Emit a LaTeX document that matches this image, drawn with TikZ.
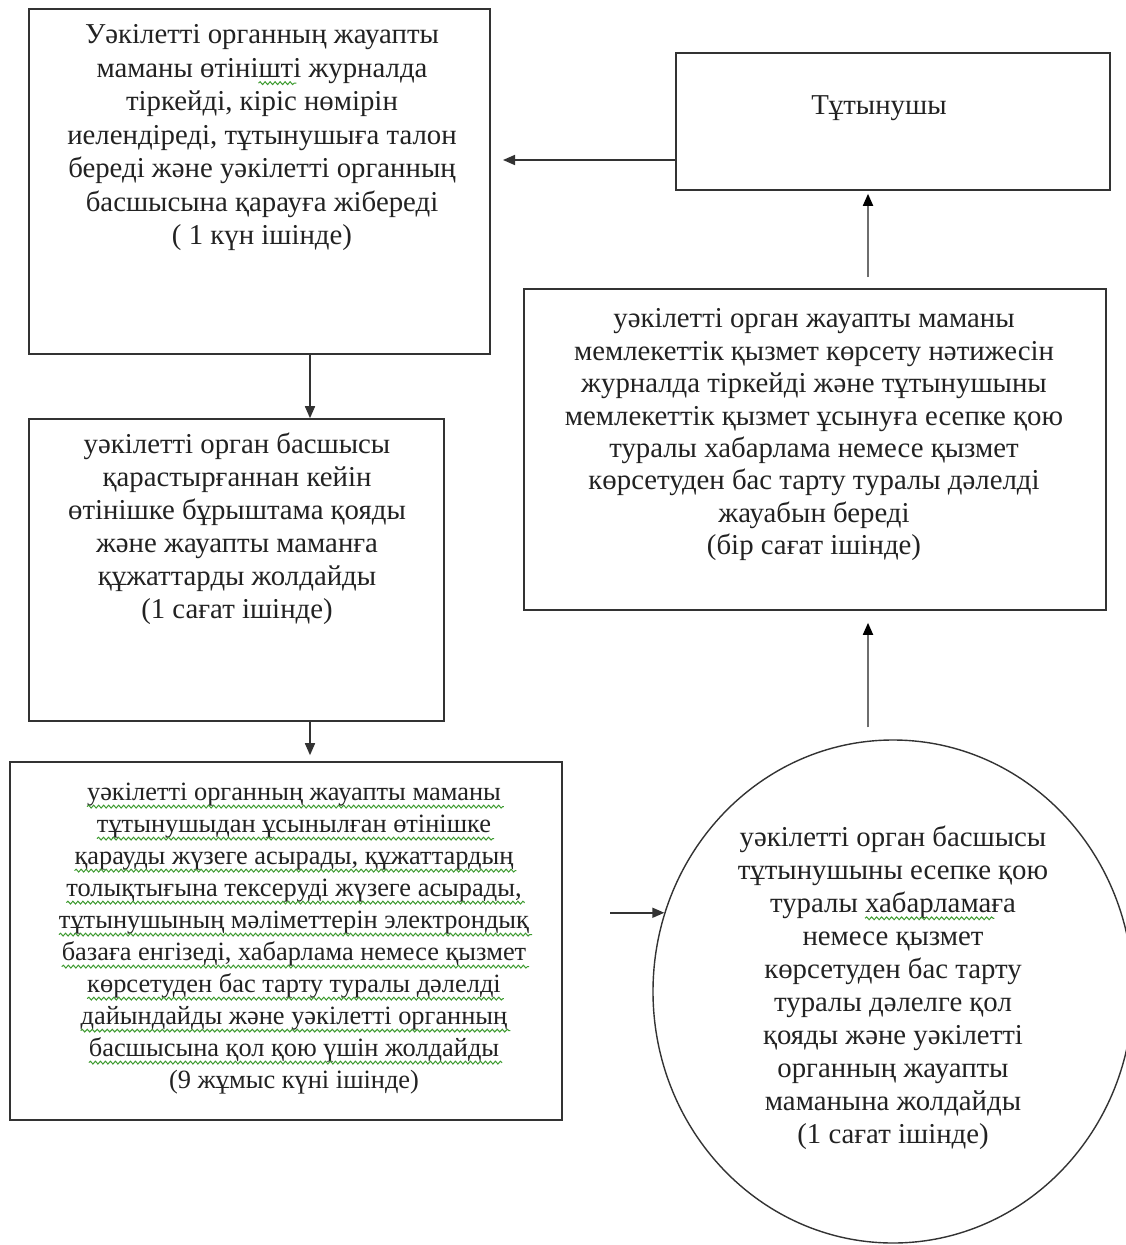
\documentclass[tikz,border=0pt]{standalone}
\usepackage{fontspec}
\setmainfont{Liberation Serif}
\usetikzlibrary{arrows.meta,shapes.geometric,decorations.pathmorphing}
\definecolor{boxc}{HTML}{333333}
\definecolor{txtc}{HTML}{222222}
\definecolor{wavc}{HTML}{3C9A2E}
\definecolor{arrg}{HTML}{6E6E6E}
\newcommand\gw[1]{\tikz[baseline=(gwn.base)]{\node[inner sep=0pt,outer sep=0pt,text=txtc] (gwn) {#1};
  \draw[overlay,wavc,line width=1pt,decorate,decoration={snake,amplitude=1.4pt,segment length=5pt}]
   ([yshift=-6pt]gwn.base west) -- ([yshift=-6pt,xshift=3pt]gwn.base east);}}
\begin{document}
\begin{tikzpicture}[x=1pt,y=-1pt,
  box/.style={draw=boxc,line width=1.6pt,rectangle,inner sep=0pt},
  txt/.style={text=txtc,align=center,inner sep=0pt,anchor=north},
  arr/.style={draw=boxc,line width=1.6pt,-{Triangle[length=12pt,width=10pt]}},
  arrgray/.style={draw=arrg,line width=1.8pt,-{Triangle[length=12pt,width=10pt,color=black]}},
]
\useasboundingbox (0,0) rectangle (1125,1245);
\fill[white] (0,0) rectangle (1125,1245);

% boxes
\node[box,minimum width=461pt,minimum height=345pt] (b1) at (259.5,181.5) {};
\node[box,minimum width=434pt,minimum height=137pt] (b2) at (893,121.5) {};
\node[box,minimum width=415pt,minimum height=302pt] (b3) at (236.5,570) {};
\node[box,minimum width=582pt,minimum height=321pt] (b4) at (815,449.5) {};
\node[box,minimum width=552pt,minimum height=358pt] (b5) at (286,941) {};
\node[draw=boxc,line width=1.4pt,ellipse,minimum width=480pt,minimum height=503pt,inner sep=0pt] (e) at (893,991.5) {};

% texts
\node[txt,font=\fontsize{28.8}{33.5}\selectfont] (t1) at (262,20) {\strut Уәкілетті органның жауапты\\
маманы өтіні\gw{шт}і журналда\\
тіркейді, кіріс нөмірін\\
иелендіреді, тұтынушыға талон\\
береді және уәкілетті органның\\
басшысына қарауға жібереді\\
( 1 күн ішінде)};

\node[txt,font=\fontsize{28.8}{33}\selectfont] (t2) at (879,91) {\strut Тұтынушы};

\node[txt,font=\fontsize{28.8}{33}\selectfont] (t3) at (237,430) {\strut уәкілетті орган басшысы\\
қарастырғаннан кейін\\
өтінішке бұрыштама қояды\\
және жауапты маманға\\
құжаттарды жолдайды\\
(1 сағат ішінде)};

\node[txt,font=\fontsize{28.8}{32.4}\selectfont] (t4) at (814,305) {\strut уәкілетті орган жауапты маманы\\
мемлекеттік қызмет көрсету нәтижесін\\
журналда тіркейді және тұтынушыны\\
мемлекеттік қызмет ұсынуға есепке қою\\
туралы хабарлама немесе қызмет\\
көрсетуден бас тарту туралы дәлелді\\
жауабын береді\\
(бір сағат ішінде)};

\node[txt,font=\fontsize{26.4}{32}\selectfont] (t5) at (294,778) {\strut \gw{уәкілетті органның жауапты маманы}\\
\gw{тұтынушыдан ұсынылған өтінішке}\\
\gw{қарауды жүзеге асырады, құжаттардың}\\
\gw{толықтығына тексеруді жүзеге асырады,}\\
\gw{тұтынушының мәліметтерін электрондық}\\
\gw{базаға енгізеді, хабарлама немесе қызмет}\\
\gw{көрсетуден бас тарту туралы дәлелді}\\
\gw{дайындайды және уәкілетті органның}\\
\gw{басшысына қол қою үшін жолдайды}\\
(9 жұмыс күні ішінде)};

\node[txt,font=\fontsize{28.8}{33}\selectfont] (t6) at (893,823) {\strut уәкілетті орган басшысы\\
тұтынушыны есепке қою\\
туралы \gw{хабарлама}ға\\
немесе қызмет\\
көрсетуден бас тарту\\
туралы дәлелге қол\\
қояды және уәкілетті\\
органның жауапты\\
маманына жолдайды\\
(1 сағат ішінде)};

% connectors
\coordinate (p1) at (503,160);
\coordinate (xl) at (310,0);
\coordinate (xin) at (610,0);
\coordinate (xr) at (868,0);
\draw[arr] (b2.west |- p1) -- (p1);
\draw[arr] (xl |- b1.south) -- (xl |- b3.north);
\draw[arr,shorten >=6pt] (xl |- b3.south) -- (xl |- b5.north);
\draw[arr] (xin |- e.161) -- (e.161);
\draw[arrgray,shorten <=12pt,shorten >=12pt] (xr |- e.north) -- (xr |- b4.south);
\draw[arrgray,shorten <=11pt,shorten >=3pt] (xr |- b4.north) -- (xr |- b2.south);
\end{tikzpicture}
\end{document}
